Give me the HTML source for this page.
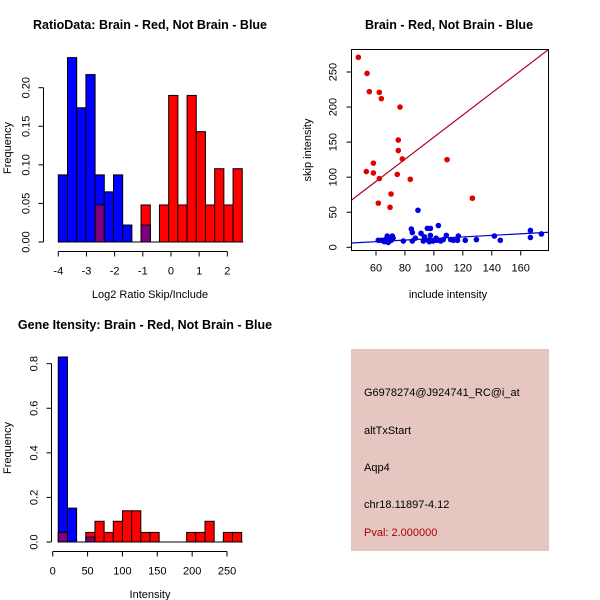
<!DOCTYPE html>
<html><head><meta charset="utf-8"><style>
body{margin:0;background:#fff;}
svg{display:block;font-family:"Liberation Sans",sans-serif;}
.t{font-weight:bold;font-size:12.5px;}
.l{font-size:11px;}
</style></head><body>
<svg id="s" width="600" height="600" xmlns="http://www.w3.org/2000/svg">
<rect width="600" height="600" fill="#fff"/>
<text class="t" x="150" y="29" text-anchor="middle">RatioData: Brain - Red, Not Brain - Blue</text>
<text class="t" x="449" y="29" text-anchor="middle">Brain - Red, Not Brain - Blue</text>
<text class="t" x="145" y="329" text-anchor="middle">Gene Itensity: Brain - Red, Not Brain - Blue</text>
<text class="l" x="150" y="298" text-anchor="middle">Log2 Ratio Skip/Include</text>
<text class="l" transform="translate(11,148) rotate(-90)" text-anchor="middle">Frequency</text>
<text class="l" x="448" y="298" text-anchor="middle">include intensity</text>
<text class="l" transform="translate(311,150) rotate(-90)" text-anchor="middle">skip intensity</text>
<text class="l" x="150" y="598" text-anchor="middle">Intensity</text>
<text class="l" transform="translate(11,448) rotate(-90)" text-anchor="middle">Frequency</text>
<rect x="351" y="349" width="198" height="202" fill="#e5c6c0"/>
<text class="l" x="364" y="396">G6978274@J924741_RC@i_at</text>
<text class="l" x="364" y="434">altTxStart</text>
<text class="l" x="364" y="471">Aqp4</text>
<text class="l" x="364" y="508">chr18.11897-4.12</text>
<text class="l" x="364" y="536" fill="#b00000">Pval: 2.000000</text>
<g id="g1"></g><g id="g2"></g><g id="g3"></g>
</svg>
<script>
// Ratio histogram data
const ratioBinStart=-4, ratioBinWidth=0.3265;
const ratioBlue=[0.087,0.239,0.174,0.217,0.087,0.065,0.087,0.022,0,0.022,0,0,0,0,0,0,0,0,0,0];
const ratioRed=[0,0,0,0,0.048,0,0,0,0,0.048,0,0.048,0.19,0.048,0.19,0.143,0.048,0.095,0.048,0.095];
const ratioXTicks=[-4,-3,-2,-1,0,1,2];
const ratioYTicks=[0,0.05,0.10,0.15,0.20];
const ratioYLabels=["0.00","0.05","0.10","0.15","0.20"];
// Scatter data
const redX=[47.8,53.8,55.4,62.3,63.7,76.6,75.4,75.4,78.2,58.2,53.3,58.2,62.3,74.7,83.7,109.1,70.4,61.6,69.7,126.6];
const redY=[271,248,222,221,212,200,153,138,126,120,108,106,98,104,97,125,76,63,57,70];
const blueX=[89,103.1,84.4,85.1,95.5,97.6,91.1,93.4,97.6,108.6,116.9,141.8,166.7,166.7,174.3,145.9,129.4,121.7,113.5,116.3,111.6,106.5,102.2,99.6,96.9,92.7,87.2,85.1,78.9,67.8,71.3,61.6,63.7,65.8,68.5,66.5,70.5,71.8,69,96,101.5,104.7];
const blueY=[52.8,31,26,21,27,27,20,15,17,17,16,16,24,14,19,10,11,10,10,10,11,11,10,9,8,9,13,9,9,16,16,10,10,8,7,11,10,13,13,10,13,9];
const redFit=[-0.7,1.578]; // intercept, slope
const blueFit=[1.36,0.112];
const scXTicks=[60,80,100,120,140,160];
const scYTicks=[0,50,100,150,200,250];
// Intensity histogram data
const intBinStart=8, intBinWidth=13.15;
const intBlue=[0.83,0.152,0,0,0,0,0,0,0,0,0,0,0,0,0,0,0,0,0,0];
const intRed=[0.043,0,0,0.043,0.093,0.043,0.093,0.14,0.14,0.043,0.043,0,0,0,0.043,0.043,0.093,0,0.043,0.043];
const intBlueOv=[0,0,0,0.022,0,0,0,0,0,0,0,0,0,0,0,0,0,0,0,0];
const intXTicks=[0,50,100,150,200,250];
const intYTicks=[0,0.2,0.4,0.6,0.8];
const intYLabels=["0.0","0.2","0.4","0.6","0.8"];

const NS="http://www.w3.org/2000/svg";
function mk(p,tag,a){const e=document.createElementNS(NS,tag);for(const k in a)e.setAttribute(k,a[k]);p.appendChild(e);return e;}
function txt(p,x,y,s,rot){const e=mk(p,'text',{x:x,y:y,'text-anchor':'middle','font-size':'11'});if(rot){e.setAttribute('transform','rotate(-90 '+x+' '+y+')');}e.textContent=s;return e;}

function hist(g,binStart,bw,blue,red,ov,xs,ys,xTicks,yTicks,yLabels,yAxisX,xAxisY,x0,x1,prefix){
  const n=blue.length;
  mk(g,'line',{x1:xs(binStart),x2:xs(binStart+n*bw)+1,y1:ys(0),y2:ys(0),stroke:'#000'});
  for(let i=0;i<n;i++){
    const a=binStart+i*bw,b=a+bw,bl=blue[i],rd=red[i];
    const lo=Math.min(bl,rd)>0?Math.min(bl,rd):(ov?ov[i]:0);
    if(bl>0){const r=mk(g,'rect',{x:xs(a),y:ys(bl),width:xs(b)-xs(a),height:ys(0)-ys(bl),fill:'#0000ff',stroke:'#000','stroke-width':1});
      
      }
    if(rd>0){const r=mk(g,'rect',{x:xs(a),y:ys(rd),width:xs(b)-xs(a),height:ys(0)-ys(rd),fill:'#ff0000',stroke:'#000','stroke-width':1});
      
      }
    if(lo>0){const r=mk(g,'rect',{x:xs(a),y:ys(lo),width:xs(b)-xs(a),height:ys(0)-ys(lo),fill:'#7f007f',stroke:'#000','stroke-width':1});
      
      }
  }
  mk(g,'line',{x1:xs(xTicks[0]),x2:xs(xTicks[xTicks.length-1]),y1:xAxisY,y2:xAxisY,stroke:'#000'});
  xTicks.forEach(t=>{mk(g,'line',{x1:xs(t),x2:xs(t),y1:xAxisY,y2:xAxisY+5,stroke:'#000'});txt(g,xs(t),xAxisY+23,String(t));});
  mk(g,'line',{x1:yAxisX,x2:yAxisX,y1:ys(yTicks[0]),y2:ys(yTicks[yTicks.length-1]),stroke:'#000'});
  yTicks.forEach((t,i)=>{mk(g,'line',{x1:yAxisX-5,x2:yAxisX,y1:ys(t),y2:ys(t),stroke:'#000'});txt(g,yAxisX-14,ys(t),yLabels[i],true);});
}
// Panel 1
const xs1=v=>58.3+(v+4)*28.17, ys1=v=>242-v*771.5;
hist(document.getElementById('g1'),ratioBinStart,ratioBinWidth,ratioBlue,ratioRed,null,xs1,ys1,ratioXTicks,ratioYTicks,ratioYLabels,43.5,251.5,0,0,'ratio');
// Panel 3
const xs3=v=>52.7+v*0.6973, ys3=v=>542-v*222.9;
hist(document.getElementById('g3'),intBinStart,intBinWidth,intBlue,intRed,intBlueOv,xs3,ys3,intXTicks,intYTicks,intYLabels,51.5,551.5,0,0,'intensity');
// Panel 2
const g2=document.getElementById('g2');
const xs2=v=>376+(v-60)*1.447, ys2=v=>247.3-v*0.7012;
const L=351.5,R=548.5,T=49.5,B=250.5;
const cp=mk(g2,'clipPath',{id:'cp'});mk(cp,'rect',{x:L,y:T,width:R-L,height:B-T});
[[redFit,'#b0002a','red-fit-line'],[blueFit,'#0000cc','blue-fit-line']].forEach(([f,c,nm])=>{
  const xa=40,xb=185;
  const ln=mk(g2,'line',{x1:xs2(xa),y1:ys2(f[0]+f[1]*xa),x2:xs2(xb),y2:ys2(f[0]+f[1]*xb),stroke:c,'stroke-width':1.2,'clip-path':'url(#cp)'});
  
  
});
redX.forEach((x,i)=>{const c=mk(g2,'circle',{cx:xs2(x),cy:ys2(redY[i]),r:2.8,fill:'#e00000'});
  
  });
blueX.forEach((x,i)=>{const c=mk(g2,'circle',{cx:xs2(x),cy:ys2(blueY[i]),r:2.8,fill:'#0000e0'});
  
  });
mk(g2,'rect',{x:L,y:T,width:R-L,height:B-T,fill:'none',stroke:'#000'});
scXTicks.forEach(t=>{mk(g2,'line',{x1:xs2(t),x2:xs2(t),y1:B,y2:B+5,stroke:'#000'});txt(g2,xs2(t),B+21,String(t));});
scYTicks.forEach(t=>{mk(g2,'line',{x1:L-5,x2:L,y1:ys2(t),y2:ys2(t),stroke:'#000'});txt(g2,L-15,ys2(t),String(t),true);});
</script>
</body></html>
